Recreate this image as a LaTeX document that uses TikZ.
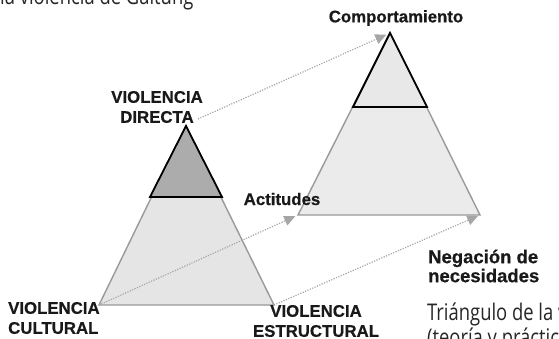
\documentclass[tikz,border=0pt]{standalone}
\usepackage{fontspec}
\setmainfont{Liberation Sans}[BoldFeatures={FakeBold=0.6}]
\newfontfamily\capfont[FakeStretch=0.8]{Open Sans}
\usetikzlibrary{arrows.meta}
\tikzset{
  lbl/.style={font=\fontsize{16.8}{20}\selectfont\bfseries, inner sep=0pt, text=black!90},
  outeredge/.style={draw=black!40, line width=1.4pt, line join=miter},
  topedge/.style={draw=black, line width=1.8pt, line join=miter},
  dotarrow/.style={draw=black!35, line width=1.2pt, dash pattern=on 1.2pt off 1.4pt,
    -{Triangle[length=11pt,width=10pt,fill=black!35]}},
  captxt/.style={font=\capfont\fontsize{23}{28}\selectfont, inner sep=0pt, anchor=base west, text=black!85}
}
\begin{document}
\begin{tikzpicture}[x=1pt,y=-1pt]
\useasboundingbox (0,0) rectangle (559,339);
\clip (0,0) rectangle (559,339);
% left triangle
\coordinate (A1) at (186,126);
\coordinate (L1) at (99,305);
\coordinate (R1) at (274,305);
\coordinate (P1) at (150,197);
\coordinate (Q1) at (222,197);
\filldraw[fill=gray!20, outeredge] (A1) -- (L1) -- (R1) -- cycle;
\filldraw[fill=gray!65, topedge] (A1) -- (P1) -- (Q1) -- cycle;
% right triangle
\coordinate (A2) at (390,33);
\coordinate (L2) at (298,215);
\coordinate (R2) at (480,215);
\coordinate (P2) at (353,107);
\coordinate (Q2) at (427,107);
\filldraw[fill=gray!16, outeredge] (A2) -- (L2) -- (R2) -- cycle;
\filldraw[fill=gray!18, topedge] (A2) -- (P2) -- (Q2) -- cycle;
% labels
\node[lbl, align=center] (vd) at (157,107) {VIOLENCIA\\DIRECTA};
\node[lbl] (comp) at (396,18) {Comportamiento};
\node[lbl] (act) at (282,199) {Actitudes};
\node[lbl, font=\fontsize{18.5}{19}\selectfont\bfseries, align=left, anchor=west] (neg) at (428,266) {Negación de\\necesidades};
\node[lbl, align=left, anchor=west] (vc) at (8,318) {VIOLENCIA\\CULTURAL};
\node[lbl, align=center] (ve) at (316,321) {VIOLENCIA\\ESTRUCTURAL};
% dotted arrows
\coordinate (d1) at (198,119);
\draw[dotarrow, shorten >=4pt] (d1) -- (A2);
\draw[dotarrow, shorten >=3pt] (L1) -- (L2);
\draw[dotarrow, shorten >=2pt] (R1) -- (R2);
% captions
\node[captxt] (c1) at (0,5) {la violencia de Galtung};
\node[captxt] (c2) at (427,320) {Triángulo de la v};
\node[captxt] (c3) at (427,345) {(teoría y práctica};
\end{tikzpicture}
\end{document}
